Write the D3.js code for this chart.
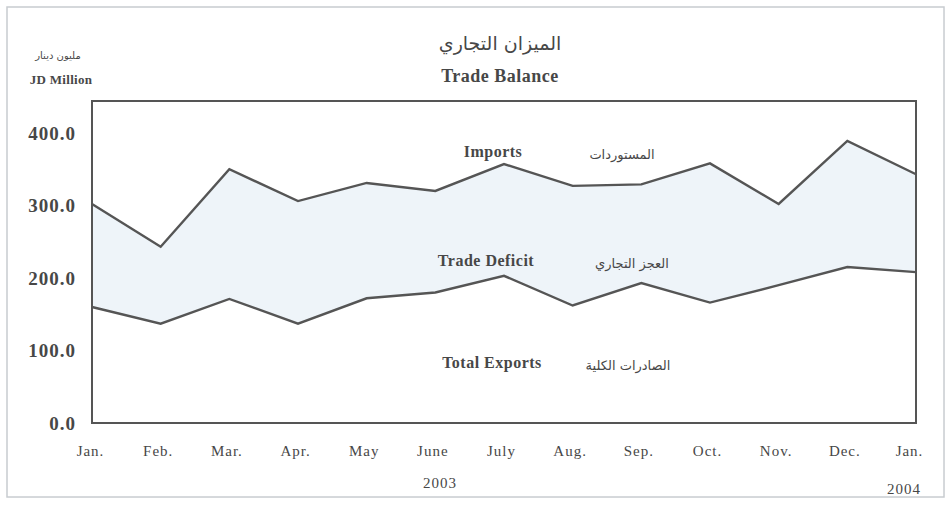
<!DOCTYPE html>
<html>
<head>
<meta charset="utf-8">
<script src="https://cdn.jsdelivr.net/npm/d3@7"></script>
<style>
  body { margin: 0; background: #fff; }
  svg text { font-family: "Liberation Serif", "Times New Roman", serif; fill: #474747; }
  .ar { font-family: "DejaVu Sans", "Noto Sans", sans-serif; }
</style>
</head>
<body>
<svg width="949" height="506"></svg>
<script>
  (function(){
    'use strict';

    var WIDTH = 949;
    var HEIGHT = 506;

    var padding = { top: 101, bottom: 83, left: 92, right: 33 };

    var months = ['Jan.', 'Feb.', 'Mar.', 'Apr.', 'May', 'June', 'July',
                  'Aug.', 'Sep.', 'Oct.', 'Nov.', 'Dec.', 'Jan.'];
    var imports = [302, 243, 350, 306, 331, 320, 357, 327, 329, 358, 302, 389, 343];
    var exports = [160, 137, 171, 137, 172, 180, 203, 162, 193, 166, 190, 215, 208];
    var yTicks = [0, 100, 200, 300, 400];

    var svg = d3.select('svg');

    var xScale = d3.scalePoint()
      .domain(d3.range(months.length))
      .range([padding.left, WIDTH - padding.right]);

    var yScale = d3.scaleLinear()
      .domain([0, 444])
      .range([HEIGHT - padding.bottom, padding.top]);

    // outer frame
    svg.append('rect')
      .attr('x', 7).attr('y', 7)
      .attr('width', WIDTH - 12).attr('height', HEIGHT - 16)
      .attr('fill', 'none')
      .attr('stroke', '#c8ccd0')
      .attr('stroke-width', 1.5);

    var data = months.map(function(m, i) {
      return { i: i, imp: imports[i], exp: exports[i] };
    });

    svg.append('path')
      .datum(data)
      .attr('fill', '#eef4f9')
      .attr('d', d3.area()
        .x(function(d) { return xScale(d.i); })
        .y0(function(d) { return yScale(d.exp); })
        .y1(function(d) { return yScale(d.imp); }));

    ['imp', 'exp'].forEach(function(key) {
      svg.append('path')
        .datum(data)
        .attr('fill', 'none')
        .attr('stroke', '#555')
        .attr('stroke-width', 2.4)
        .attr('stroke-linejoin', 'miter')
        .attr('d', d3.line()
          .x(function(d) { return xScale(d.i); })
          .y(function(d) { return yScale(d[key]); }));
    });

    // plot box
    svg.append('rect')
      .attr('x', padding.left).attr('y', padding.top)
      .attr('width', WIDTH - padding.left - padding.right)
      .attr('height', HEIGHT - padding.top - padding.bottom)
      .attr('fill', 'none')
      .attr('stroke', '#555')
      .attr('stroke-width', 2);

    // y axis
    var yAxis = svg.append('g')
      .attr('transform', 'translate(' + [padding.left, 0] + ')')
      .call(d3.axisLeft(yScale).tickValues(yTicks).tickSize(0).tickPadding(16)
        .tickFormat(d3.format('.1f')));
    yAxis.select('.domain').remove();
    yAxis.selectAll('text')
      .attr('font-size', 19).attr('font-weight', 'bold')
      .attr('letter-spacing', 1)
      .style('font-family', '"Liberation Serif", serif').attr('fill', '#555');

    // x axis
    var xAxis = svg.append('g')
      .attr('transform', 'translate(' + [0, HEIGHT - padding.bottom] + ')')
      .call(d3.axisBottom(xScale).tickSize(0).tickPadding(22)
        .tickFormat(function(i) { return months[i]; }));
    xAxis.select('.domain').remove();
    xAxis.selectAll('text')
      .attr('font-size', 15)
      .attr('letter-spacing', 1)
      .attr('dx', function(i) { return i === 0 ? -2 : (i === months.length - 1 ? -7 : -3); })
      .style('font-family', '"Liberation Serif", serif').attr('fill', '#555');

    svg.append('text').attr('x', 440).attr('y', 488)
      .attr('text-anchor', 'middle').attr('font-size', 15).attr('letter-spacing', 1).text('2003');
    svg.append('text').attr('x', 904).attr('y', 494)
      .attr('text-anchor', 'middle').attr('font-size', 15).attr('letter-spacing', 1).text('2004');

    // titles
    svg.append('text').attr('class', 'ar').attr('x', 500).attr('y', 50)
      .attr('text-anchor', 'middle').attr('font-size', 19).text('الميزان التجاري');
    svg.append('text').attr('x', 500).attr('y', 82)
      .attr('text-anchor', 'middle').attr('font-size', 18).attr('font-weight', 'bold')
      .attr('letter-spacing', 0.5)
      .text('Trade Balance');
    svg.append('text').attr('class', 'ar').attr('x', 58).attr('y', 59)
      .attr('text-anchor', 'middle').attr('font-size', 10).text('مليون دينار');
    svg.append('text').attr('x', 61).attr('y', 84)
      .attr('text-anchor', 'middle').attr('font-size', 13).attr('font-weight', 'bold')
      .attr('letter-spacing', 0.3)
      .text('JD Million');

    // series labels
    var labels = [
      { en: 'Imports', ar: 'المستوردات', y: 157, ex: 493, ax: 622 },
      { en: 'Trade Deficit', ar: 'العجز التجاري', y: 266, ex: 486, ax: 632 },
      { en: 'Total Exports', ar: 'الصادرات الكلية', y: 368, ex: 492, ax: 628 }
    ];
    labels.forEach(function(l) {
      svg.append('text').attr('x', l.ex).attr('y', l.y)
        .attr('text-anchor', 'middle').attr('font-size', 16).attr('font-weight', 'bold')
        .attr('letter-spacing', 0.5)
        .text(l.en);
      svg.append('text').attr('class', 'ar').attr('x', l.ax).attr('y', l.y + 2)
        .attr('text-anchor', 'middle').attr('font-size', 13).text(l.ar);
    });
  })();
</script>
</body>
</html>
